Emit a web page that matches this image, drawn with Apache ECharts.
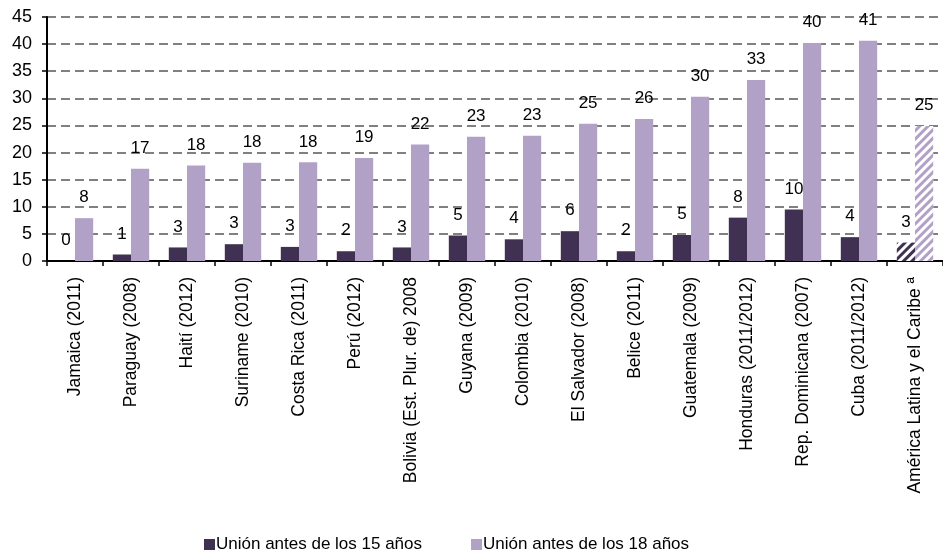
<!DOCTYPE html>
<html>
<head>
<meta charset="utf-8">
<style>
  html, body { margin: 0; padding: 0; background: #fff; }
  #chart { width: 943px; height: 554px; }
</style>
<script src="https://cdn.jsdelivr.net/npm/echarts@6/dist/echarts.min.js"></script>
</head>
<body>
<div id="chart"></div>
<script>
const countries = [
  'Jamaica (2011)', 'Paraguay (2008)', 'Haití (2012)', 'Suriname (2010)',
  'Costa Rica (2011)', 'Perú (2012)', 'Bolivia (Est. Plur. de) 2008', 'Guyana (2009)',
  'Colombia (2010)', 'El Salvador (2008)', 'Belice (2011)', 'Guatemala (2009)',
  'Honduras (2011/2012)', 'Rep. Dominicana (2007)', 'Cuba (2011/2012)', 'América Latina y el Caribe ª'
];
const before15 = [0, 1.2, 2.5, 3.1, 2.6, 1.8, 2.5, 4.7, 4.0, 5.5, 1.8, 4.8, 8.0, 9.5, 4.4, 3.4];
const before18 = [7.9, 17.0, 17.6, 18.1, 18.2, 19.0, 21.5, 22.9, 23.1, 25.3, 26.2, 30.3, 33.4, 40.2, 40.6, 24.9];
const seriesNames = ['Unión antes de los 15 años', 'Unión antes de los 18 años'];

const darkColor = '#403152';
const lightColor = '#b2a1c7';
const font = 'Arial, "Liberation Sans", sans-serif';

// last category (regional average) is drawn hatched
function withHatch(values, color) {
  return values.map((v, i) => {
    if (i !== values.length - 1) return v;
    return {
      value: v,
      itemStyle: {
        color: '#ffffff',
        decal: {
          symbol: 'rect',
          color: color,
          dashArrayX: [1, 0],
          dashArrayY: [3, 3],
          rotation: -Math.PI / 4
        }
      }
    };
  });
}

const labelCfg = {
  show: true,
  position: 'top',
  distance: 12,
  color: '#000',
  fontFamily: font,
  fontSize: 17,
  formatter: (p) => Math.round(p.value)
};

const chart = echarts.init(document.getElementById('chart'));
chart.setOption({
  animation: false,
  backgroundColor: '#fff',
  grid: { left: 47, right: -10, top: 17, bottom: 293, containLabel: false },
  legend: {
    left: 199,
    top: 531,
    icon: 'rect',
    itemWidth: 11,
    itemHeight: 11,
    itemGap: 49,
    textStyle: { fontFamily: font, fontSize: 17, color: '#000', padding: [0, 0, 0, -4] },
    data: seriesNames
  },
  xAxis: {
    type: 'category',
    data: countries,
    axisLine: { lineStyle: { color: '#000', width: 2 } },
    axisTick: { show: true, length: 5, lineStyle: { color: '#000', width: 1.5 } },
    axisLabel: {
      rotate: 90,
      interval: 0,
      margin: 16,
      color: '#000',
      fontFamily: font,
      fontSize: 17.5
    }
  },
  yAxis: {
    type: 'value',
    min: 0,
    max: 45,
    interval: 5,
    axisLine: { show: true, lineStyle: { color: '#000', width: 2 } },
    axisTick: { show: true, length: 5, lineStyle: { color: '#000', width: 1.5 } },
    axisLabel: { margin: 15, color: '#000', fontFamily: font, fontSize: 18 },
    splitLine: { lineStyle: { color: '#808080', width: 2, type: [9, 5] } }
  },
  series: [
    {
      name: seriesNames[0],
      type: 'bar',
      data: withHatch(before15, darkColor),
      itemStyle: { color: darkColor },
      barGap: '0%',
      barCategoryGap: '35%',
      label: labelCfg
    },
    {
      name: seriesNames[1],
      type: 'bar',
      data: withHatch(before18, lightColor),
      itemStyle: { color: lightColor },
      barGap: '0%',
      barCategoryGap: '35%',
      label: labelCfg
    }
  ]
});
</script>
</body>
</html>
